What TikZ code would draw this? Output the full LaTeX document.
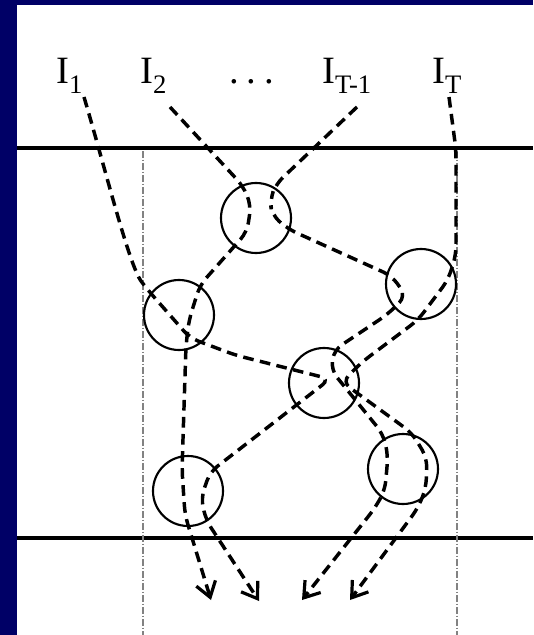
\documentclass[tikz,border=0pt]{standalone}
\usepackage{fontspec}
\setmainfont{Liberation Serif}
\usetikzlibrary{calc,arrows.meta}
\definecolor{slidenavy}{RGB}{0,0,102}
\definecolor{guidegray}{RGB}{130,130,130}
% input label with a lowered, smaller index
\newcommand{\inp}[1]{I\raisebox{-0.25em}{\fontsize{20}{20}\selectfont #1}}
\begin{document}
\begin{tikzpicture}[x=0.75pt,y=-0.75pt,
  unit/.style={circle,draw,line width=1.6pt,minimum size=52.5pt,inner sep=0pt},
  lbl/.style={font=\fontsize{29}{29}\selectfont,inner sep=0pt,anchor=base west},
  flow/.style={line width=2.6pt,dash pattern=on 8pt off 4.8pt,rounded corners=7pt},
  outflow/.style={flow,-{Straight Barb[length=11pt,width=15pt,line width=2.4pt]}},
  layer/.style={line width=2.8pt},
  guide/.style={guidegray,line width=1.4pt,dash pattern=on 5pt off 1.5pt on 1pt off 1.5pt}]

% slide background and white panel
\useasboundingbox (0,0) rectangle (533,635);
\fill[slidenavy] (0,0) rectangle (533,635);
\fill[white] (17,5) rectangle (533,635);

% layer boundaries and side guides
\draw[layer] (17,148) -- (533,148);
\draw[layer] (17,538) -- (533,538);
\draw[guide] (143,151) -- (143,635);
\draw[guide] (457,151) -- (457,635);

% input labels
\node[lbl] (lI1) at (56,84) {\inp{1}};
\node[lbl] (lI2) at (140,84) {\inp{2}};
\node[lbl] (ldots) at (229,84) {.\hspace{0.2em}.\hspace{0.2em}.};
\node[lbl] (lIT1) at (322,84) {\inp{T-1}};
\node[lbl] (lIT) at (432,84) {\inp{T}};

% hidden units
\node[unit] (A) at (256,218) {};
\node[unit] (B) at (179,315) {};
\node[unit] (C) at (421,284) {};
\node[unit] (D) at (324,383) {};
\node[unit] (E) at (188,491) {};
\node[unit] (F) at (403,469) {};

% start and end points of the flows
\coordinate (s1) at (84,97);
\coordinate (s2) at (170,107);
\coordinate (s3) at (357,107);
\coordinate (s4) at (449,97);
\coordinate (t1) at (211,600);
\coordinate (t2) at (259,601);
\coordinate (t3) at (302,600);
\coordinate (t4) at (350,600);

% flow of I1: B -> D -> E
\draw[outflow] (s1) .. controls ($(B)+(-72,-140)$) and ($(B)+(-50,-50)$) .. ($(B)+(-32,-26)$)
  -- ($(B)+(11,23)$) -- ($(B)+(56,40)$) -- ($(D)+(6,-4)$) -- ($(E)+(22,-19)$)
  -- ($(E)+(13,7)$) -- ($(E)+(18,29)$) -- (t2);

% flow of I2: A -> B -> E
\draw[outflow] (s2) -- ($(A)+(-13,-32)$) -- ($(A)+(-5,-13)$) -- ($(A)+(-9,14)$)
  -- ($(B)+(21,-30)$) -- ($(B)+(10,5)$) -- ($(B)+(7,30)$) -- ($(E)+(-6,-21)$)
  -- ($(E)+(-3,24)$) -- (t1);

% flow of I_{T-1}: A -> C -> D -> F
\draw[outflow] (s3) -- ($(A)+(20,-34)$) -- ($(A)+(14,-18)$) -- ($(A)+(16,-3)$)
  -- ($(A)+(32,11)$) -- ($(C)+(-29,-8)$) -- ($(C)+(-15,12)$) -- ($(C)+(-33,30)$)
  -- ($(D)+(10,-33)$) -- ($(D)+(7,-13)$) -- ($(F)+(-20,-35)$) -- ($(F)+(-15,-14)$)
  -- ($(F)+(-18,21)$) -- ($(F)+(-28,39)$) -- (t3);

% flow of I_T: C -> D -> F
\draw[outflow] (s4) -- ($(C)+(35,-134)$) -- ($(C)+(35,-29)$) -- ($(C)+(27,-4)$)
  -- ($(C)+(-3,36)$) -- ($(D)+(38,-21)$) -- ($(D)+(18,-1)$) -- ($(F)+(9,-36)$)
  -- ($(F)+(24,-11)$) -- ($(F)+(23,19)$) -- ($(F)+(15,39)$) -- (t4);
\end{tikzpicture}
\end{document}
